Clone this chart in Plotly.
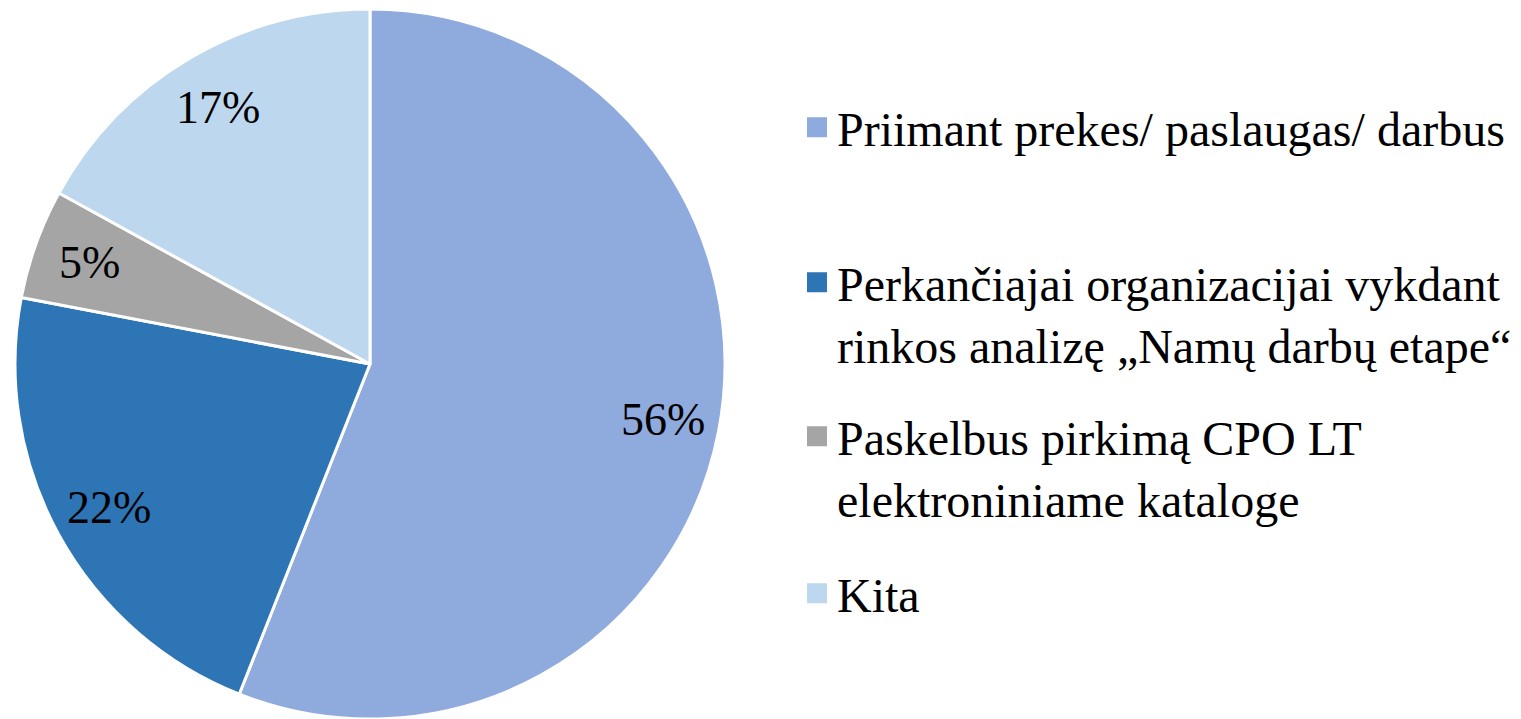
import math
import plotly.graph_objects as go

labels = [
    "Priimant prekes/ paslaugas/ darbus",
    "Perkančiajai organizacijai vykdant<br>rinkos analizę „Namų darbų etape“",
    "Paskelbus pirkimą CPO LT<br>elektroniniame kataloge",
    "Kita",
]
values = [56, 22, 5, 17]
colors = ["#8FAADC", "#2E75B6", "#A5A5A5", "#BDD7EE"]

W, H = 1521, 719
FONT = "Liberation Serif, Times New Roman, serif"

# pie geometry (pixels)
cx, cy, r = 370, 364, 355
dom_x = [(cx - r) / W, (cx + r) / W]
dom_y = [0, 1 - (cy - r) / H]

fig = go.Figure()
fig.add_trace(go.Pie(
    labels=labels, values=values, sort=False, direction="clockwise", rotation=0,
    marker=dict(colors=colors, line=dict(color="white", width=3)),
    textinfo="none", hoverinfo="label+percent", showlegend=False,
    domain=dict(x=dom_x, y=dom_y),
))

# percentage labels placed along each slice's mid-angle
total = sum(values)
annotations = []
cum = 0
for v in values:
    mid = (cum + v / 2) / total * 2 * math.pi
    cum += v
    px = cx + 0.84 * r * math.sin(mid)
    py = cy - 0.84 * r * math.cos(mid)
    annotations.append(dict(
        x=px / W, y=1 - py / H, xref="paper", yref="paper",
        text=f"{round(v / total * 100)}%", showarrow=False,
        font=dict(family=FONT, size=46, color="black"),
        xanchor="center", yanchor="middle",
    ))

# legend entries: one legend per item so the spacing matches the reference
legend_ids = ["legend", "legend2", "legend3", "legend4"]
baselines = [146, 301, 455, 612]
LEG_FONT = 48
lh = LEG_FONT * 1.3
for lab, col, lid in zip(labels, colors, legend_ids):
    fig.add_trace(go.Scatter(
        x=[None], y=[None], mode="markers", name=lab, legend=lid,
        marker=dict(symbol="square", size=16, color=col, line=dict(color=col, width=4)),
        showlegend=True, hoverinfo="skip",
    ))

layout_legends = {}
for lid, b in zip(legend_ids, baselines):
    top = b - (6.5 + 0.8 * lh)
    layout_legends[lid] = dict(
        x=797 / W, y=1 - top / H, xanchor="left", yanchor="top",
        font=dict(family=FONT, size=LEG_FONT, color="black"),
        bgcolor="rgba(0,0,0,0)", borderwidth=0, valign="top",
        itemclick=False, itemdoubleclick=False,
    )

fig.update_layout(
    width=W, height=H,
    margin=dict(l=0, r=0, t=0, b=0),
    paper_bgcolor="white", plot_bgcolor="white",
    xaxis=dict(visible=False), yaxis=dict(visible=False),
    annotations=annotations,
    **layout_legends,
)

fig.write_html(
    "out.html",
    config={"displayModeBar": False},
    post_script="document.body.style.margin='0';document.body.style.overflow='hidden';",
)
